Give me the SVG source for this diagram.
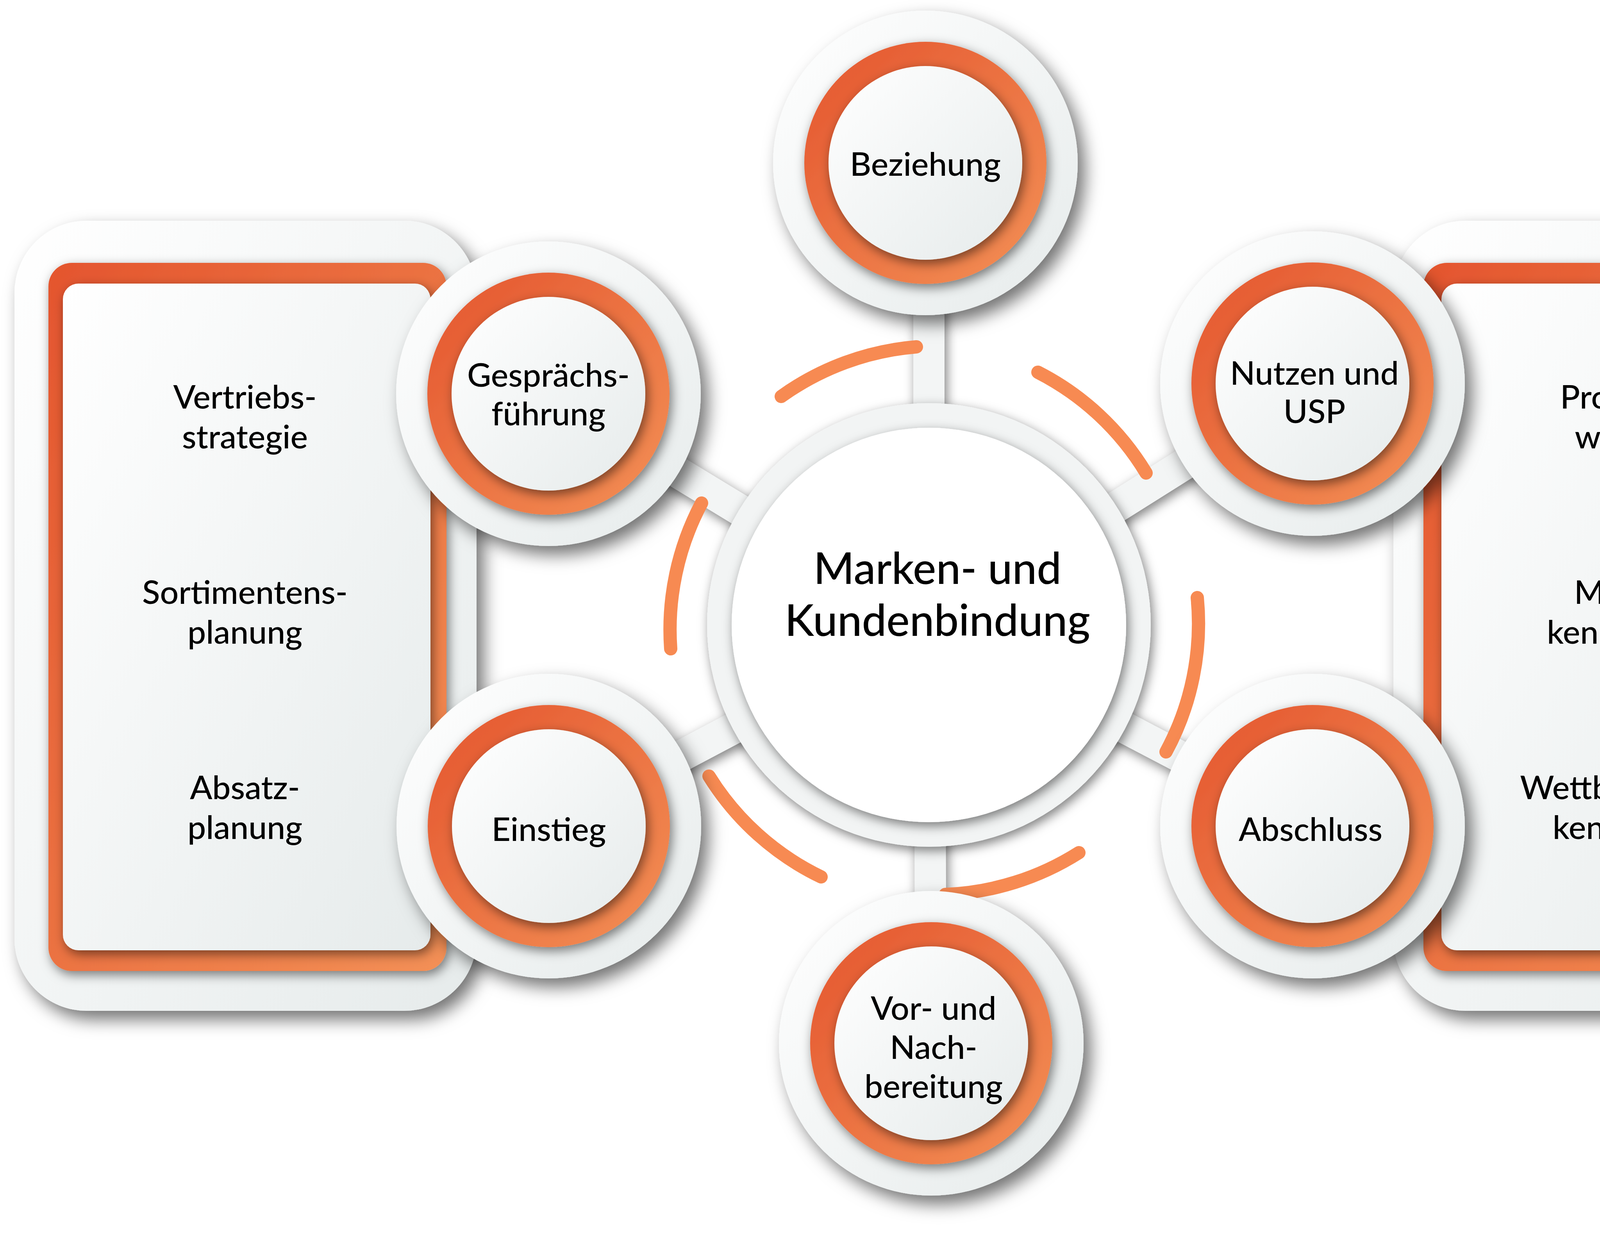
<svg xmlns="http://www.w3.org/2000/svg" width="4842" height="3167" viewBox="0 0 4842 3167">
<defs>
<filter id="sh" x="-30%" y="-30%" width="160%" height="160%"><feDropShadow dx="18" dy="22" stdDeviation="22" flood-color="#000" flood-opacity="0.55"/></filter>
<filter id="sh2" x="-30%" y="-30%" width="160%" height="160%"><feDropShadow dx="6" dy="10" stdDeviation="14" flood-color="#000" flood-opacity="0.5"/></filter>
<linearGradient id="og" x1="0" y1="0" x2="1" y2="1"><stop offset="0" stop-color="#e4552e"/><stop offset="1" stop-color="#f39056"/></linearGradient>
<linearGradient id="wg" x1="0" y1="0" x2="1" y2="1"><stop offset="0" stop-color="#ffffff"/><stop offset="1" stop-color="#e6ebeb"/></linearGradient>
<style>
.t{font-family:Lato,"Open Sans","Liberation Sans",sans-serif;font-weight:500;fill:#000;text-anchor:middle;dominant-baseline:central}
.s{font-size:84px}
.c{font-size:112px}
.arc{fill:none;stroke:#f78a52;stroke-width:34;stroke-linecap:round}
.ow{fill:url(#wg);filter:url(#sh)}
.or{fill:url(#og);filter:url(#sh2)}
.iw{fill:url(#wg);filter:url(#sh2)}
</style>
<g id="sat">
<circle r="390" class="ow"/><circle r="310" class="or"/><circle r="248" class="iw"/>
</g>
</defs>
<rect width="4842" height="3167" fill="#fff"/>
<g id="panel-left">
<rect x="37" y="565" width="1183" height="2023" rx="185" class="ow"/>
<rect x="124" y="673" width="1019" height="1813" rx="60" class="or"/>
<rect x="161" y="726" width="941" height="1707" rx="40" class="iw"/>
<text class="t s" x="627" y="1013">Vertriebs-</text><text class="t s" x="627" y="1115">strategie</text>
<text class="t s" x="627" y="1513">Sortimentens-</text><text class="t s" x="627" y="1615">planung</text>
<text class="t s" x="627" y="2013">Absatz-</text><text class="t s" x="627" y="2115">planung</text>
</g>
<g id="panel-right">
<rect x="3567" y="565" width="1182" height="2023" rx="185" class="ow"/>
<rect x="3644" y="673" width="1019" height="1813" rx="60" class="or"/>
<rect x="3690" y="726" width="936" height="1707" rx="40" class="iw"/>
<text class="t s" x="4157" y="1013">Produkt-</text><text class="t s" x="4157" y="1115">wissen</text>
<text class="t s" x="4157" y="1513">Markt-</text><text class="t s" x="4157" y="1615">kenntnisse</text>
<text class="t s" x="4157" y="2013">Wettbewerbs-</text><text class="t s" x="4157" y="2115">kennnisse</text>
</g>
<g id="connectors">
<g stroke="#f3f5f5" stroke-width="80" stroke-linecap="round" filter="url(#sh2)">
<line x1="2378" y1="1600" x2="2378" y2="417"/>
<line x1="2378" y1="1600" x2="1404" y2="1008"/>
<line x1="2378" y1="1600" x2="3360" y2="982"/>
<line x1="2378" y1="1600" x2="1405" y2="2115"/>
<line x1="2378" y1="1600" x2="3360" y2="2115"/>
<line x1="2378" y1="1600" x2="2384" y2="2671"/>
</g>
<circle cx="2378" cy="1600" r="568" fill="#f2f4f4" filter="url(#sh2)"/>
<path class="arc" d="M2000,1015 A690,690 0 0 1 2346,888"/>
<path class="arc" d="M2657,953 A690,690 0 0 1 2934,1211"/>
<path class="arc" d="M3065,1530 A690,690 0 0 1 2985,1925"/>
<path class="arc" d="M2762,2183 A690,690 0 0 1 2420,2290"/>
<path class="arc" d="M2102,2245 A690,690 0 0 1 1815,1987"/>
<path class="arc" d="M1717,1661 A690,690 0 0 1 1796,1288"/>
</g>
<g id="center">
<circle cx="2378" cy="1600" r="505" fill="#fff" filter="url(#sh2)"/>
<text class="t c" x="2400" y="1451">Marken- und</text>
<text class="t c" x="2400" y="1584">Kundenbindung</text>
</g>
<g id="n-beziehung"><use href="#sat" x="2369" y="417"/><text class="t s" x="2369" y="417">Beziehung</text></g>
<g id="n-gespraech"><use href="#sat" x="1404" y="1008"/><text class="t s" x="1404" y="957">Gesprächs-</text><text class="t s" x="1404" y="1056">führung</text></g>
<g id="n-nutzen"><use href="#sat" x="3360" y="982"/><text class="t s" x="3365" y="952">Nutzen und</text><text class="t s" x="3365" y="1050">USP</text></g>
<g id="n-einstieg"><use href="#sat" x="1405" y="2115"/><text class="t s" x="1405" y="2120">Einstieg</text></g>
<g id="n-abschluss"><use href="#sat" x="3360" y="2115"/><text class="t s" x="3355" y="2120">Abschluss</text></g>
<g id="n-vor"><use href="#sat" x="2384" y="2671"/><text class="t s" x="2390" y="2578">Vor- und</text><text class="t s" x="2390" y="2678">Nach-</text><text class="t s" x="2390" y="2778">bereitung</text></g>
</svg>
